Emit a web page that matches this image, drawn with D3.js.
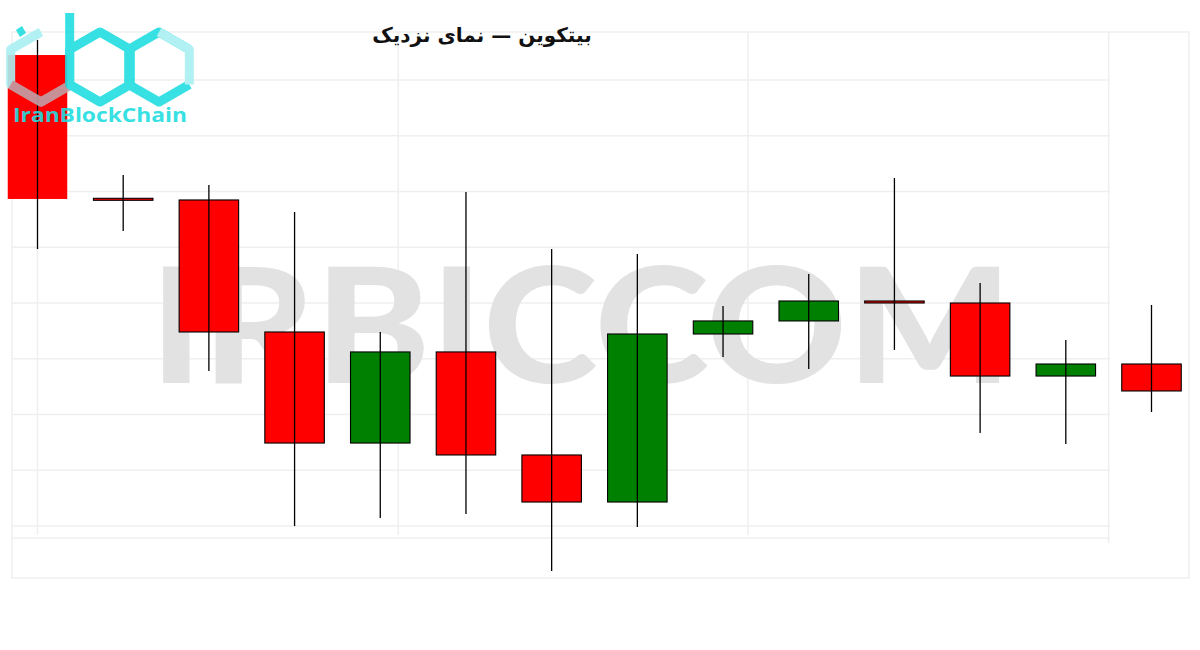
<!DOCTYPE html>
<html>
<head>
<meta charset="utf-8">
<script src="https://cdn.jsdelivr.net/npm/d3@7"></script>
<style>
  html, body { margin: 0; padding: 0; background: #ffffff; }
  svg { display: block; }
</style>
</head>
<body>
<svg id="chart" width="1200" height="650"></svg>
<script>
// ---- data ----
const categories = ["1","2","3","4","5","6","7","8","9","10","11","12","13","14"];
const opens  = [64224, 62935, 62924, 61740, 60744, 61561, 60637, 60215, 61722, 61839, 62013, 62000, 61345, 61453];
const highs  = [64359, 63148, 63058, 62816, 61740, 62996, 62484, 62440, 61973, 62260, 63121, 62179, 61668, 61982];
const lows   = [62484, 62646, 61390, 60000, 60072, 60108, 59596, 59991, 61516, 61408, 61579, 60834, 60735, 61022];
const closes = [62933, 62925, 61740, 60744, 61561, 60637, 60215, 61722, 61839, 62018, 62005, 61345, 61453, 61211];
const yTicks = [60000, 60500, 61000, 61500, 62000, 62500, 63000, 63500, 64000];
const xGridIdx = [0, 4.21, 8.29, 12.5];
const title = "بیتکوین — نمای نزدیک";
const watermark = "IRBICCOM";
const logoText = "IranBlockChain";

const svg = d3.select("#chart");

// ---- scales ----
const x = d3.scaleLinear().domain([0, categories.length - 1]).range([37.5, 1151.5]);
const y = d3.scaleLinear().domain([60000, 64000]).range([526, 80]);
const bodyW = 59.5;

// ---- frame and grid ----
const gridColor = "#efefef";
svg.append("rect").attr("x", 12).attr("y", 32).attr("width", 1177).attr("height", 546)
  .attr("fill", "none").attr("stroke", gridColor).attr("stroke-width", 1.5);

svg.append("g").selectAll("line").data(yTicks).join("line")
  .attr("x1", 12).attr("x2", 1110)
  .attr("y1", d => y(d)).attr("y2", d => y(d))
  .attr("stroke", gridColor).attr("stroke-width", 1.5);

svg.append("line").attr("x1", 12).attr("x2", 1110).attr("y1", 538).attr("y2", 538)
  .attr("stroke", gridColor).attr("stroke-width", 1.5);

svg.append("g").selectAll("line").data(xGridIdx).join("line")
  .attr("x1", d => x(d)).attr("x2", d => x(d))
  .attr("y1", 32).attr("y2", d => d > 12 ? 543 : 535)
  .attr("stroke", gridColor).attr("stroke-width", 1.5);

// ---- watermark ----
svg.append("text")
  .attr("x", 150).attr("y", 383)
  .attr("textLength", 862).attr("lengthAdjust", "spacingAndGlyphs")
  .attr("font-family", "Lato, 'Liberation Sans', sans-serif")
  .attr("font-weight", 900).attr("font-size", 160)
  .attr("fill", "#e2e2e2")
  .text(watermark);

// ---- candles ----
const candles = categories.map((c, i) => ({
  c, i, o: opens[i], h: highs[i], l: lows[i], cl: closes[i]
}));

const g = svg.append("g");
const cg = g.selectAll("g.candle").data(candles).join("g").attr("class", "candle");

cg.append("rect")
  .attr("x", d => x(d.i) - bodyW / 2)
  .attr("width", bodyW)
  .attr("y", d => Math.min(y(Math.max(d.o, d.cl)), (y(d.o) + y(d.cl)) / 2 - 1))
  .attr("height", d => Math.max(2, Math.abs(y(d.o) - y(d.cl))))
  .attr("fill", d => d.cl >= d.o ? "#008000" : "#ff0000")
  .attr("stroke", d => d.i === 0 ? "none" : "#000")
  .attr("stroke-width", 1.1);

cg.append("line")
  .attr("x1", d => x(d.i)).attr("x2", d => x(d.i))
  .attr("y1", d => y(d.h)).attr("y2", d => y(d.l))
  .attr("stroke", "#000").attr("stroke-width", 1.3);

// ---- logo ----
const logo = svg.append("g").attr("opacity", 0.9);
function hexPts(cx, cy, R) {
  return d3.range(6).map(k => {
    const a = Math.PI / 180 * (60 * k - 90);
    return [cx + R * Math.cos(a), cy + R * Math.sin(a)];
  });
}
const cyan = "#22dde0", cyanLight = "#a9f0f2";
const line = d3.line();
// 'i' hex (left and bottom parts)
const h1 = hexPts(41, 67, 35);
logo.append("path").attr("d", line([h1[0], h1[5], h1[4], h1[3], h1[2]]))
  .attr("fill", "none").attr("stroke", cyanLight).attr("stroke-width", 9).attr("stroke-linejoin", "round");
logo.append("path").attr("d", line([h1[4], h1[3], h1[2]]))
  .attr("fill", "none").attr("stroke", "#d06a74").attr("stroke-width", 9).attr("opacity", 0.6);
logo.append("path").attr("d", "M16,30 L22,26 L26,33 L20,37 Z").attr("fill", cyan);
// 'b' hex + stem
const h2 = hexPts(100, 67, 35);
logo.append("path").attr("d", line(h2) + "Z")
  .attr("fill", "none").attr("stroke", cyan).attr("stroke-width", 9).attr("stroke-linejoin", "round");
logo.append("line").attr("x1", h2[4][0]).attr("x2", h2[4][0]).attr("y1", 13).attr("y2", 84)
  .attr("stroke", cyan).attr("stroke-width", 9);
// 'c' hex
const h3 = hexPts(159, 67, 35);
logo.append("path").attr("d", line([h3[1], h3[0], h3[5], h3[4], h3[3], h3[2]]))
  .attr("fill", "none").attr("stroke", cyan).attr("stroke-width", 9).attr("stroke-linejoin", "round");
logo.append("path").attr("d", line([h3[0], h3[1], h3[2]]))
  .attr("fill", "none").attr("stroke", cyanLight).attr("stroke-width", 9).attr("stroke-linejoin", "round");
logo.append("text")
  .attr("x", 13).attr("y", 122)
  .attr("textLength", 174).attr("lengthAdjust", "spacingAndGlyphs")
  .attr("font-family", "'Open Sans', 'DejaVu Sans', sans-serif")
  .attr("font-weight", 700).attr("font-size", 20)
  .attr("fill", cyan)
  .text(logoText);

// ---- title ----
svg.append("text")
  .attr("x", 482).attr("y", 42)
  .attr("text-anchor", "middle")
  .attr("direction", "rtl")
  .attr("font-family", "'DejaVu Sans', sans-serif")
  .attr("font-weight", 700).attr("font-size", 20)
  .attr("fill", "#111")
  .text(title);
</script>
</body>
</html>
